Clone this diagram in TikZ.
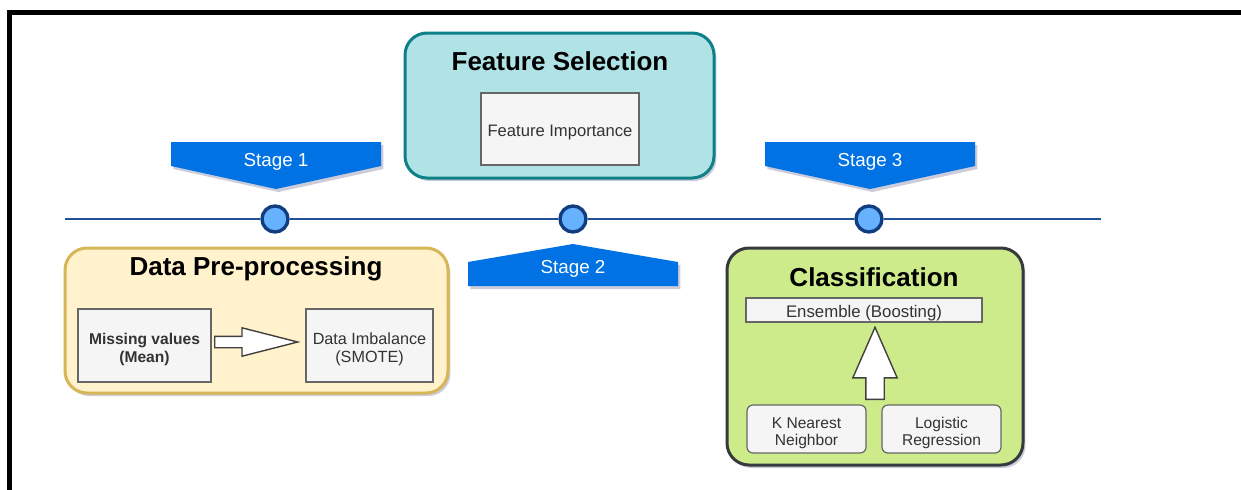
\documentclass[tikz,border=0pt]{standalone}
\usepackage{fontspec}
\setmainfont{Liberation Sans}
\usepackage{xcolor}
\usetikzlibrary{shapes.arrows,shadows}

\definecolor{stageblue}{RGB}{0,114,227}
\definecolor{lineblue}{RGB}{32,80,150}
\definecolor{dotfill}{RGB}{102,178,255}
\definecolor{dotdraw}{RGB}{16,62,128}
\definecolor{fsfill}{RGB}{176,227,230}
\definecolor{fsdraw}{RGB}{14,128,136}
\definecolor{ppfill}{RGB}{255,242,204}
\definecolor{ppdraw}{RGB}{214,182,86}
\definecolor{clfill}{RGB}{205,235,139}
\definecolor{cldraw}{RGB}{54,57,61}
\definecolor{boxfill}{RGB}{245,245,245}
\definecolor{boxdraw}{RGB}{102,102,102}
\definecolor{boxtext}{RGB}{51,51,51}

% strut that pushes the box text a little down
\newcommand{\boxstrut}{\rule{0pt}{9.5pt}}

\begin{document}
\begin{tikzpicture}%
        [x=0.5pt, y=-0.5pt,
        softshadow/.style={drop shadow={shadow xshift=1.2pt, shadow yshift=-1.5pt, opacity=0.2, fill=blue!30!black}},
        outerframe/.style={color=black, line width=2.5pt},
        timeline/.style={color=lineblue, line width=1.4pt},
        stagedot/.style={circle, inner sep=0pt, minimum size=13pt, draw=dotdraw, fill=dotfill, line width=1.7pt},
        banner/.style={fill=stageblue, softshadow},
        bannertext/.style={anchor=base, text=white, font=\fontsize{9.4}{11}\selectfont},
        stagegroup/.style={rounded corners=11pt, line width=1.5pt, inner sep=0pt, softshadow},
        grouptitle/.style={anchor=base, text=black, font=\fontsize{13}{15}\selectfont\bfseries},
        methodbox/.style={draw=boxdraw, fill=boxfill, line width=0.6pt, text=boxtext, align=center, inner sep=0pt},
        blockarrow/.style={single arrow, single arrow head indent=0pt, draw=black!75, fill=white, line width=0.7pt, inner sep=0pt, anchor=tail}]

    %% Page and frame
    \fill[white] (0,0) rectangle (1241,489);
    \useasboundingbox (0,0) rectangle (1241,489);
    \draw[outerframe] (9,495) -- (9,12) -- (1250,12);

    %% Time line with the three stage dots
    \coordinate (tl-start) at (65,219);
    \coordinate (tl-end) at (1101,219);
    \node[stagedot] (dot1) at (275,219) {};
    \node[stagedot] (dot2) at (573,219) {};
    \node[stagedot] (dot3) at (869,219) {};
    \draw[timeline, softshadow] (tl-start) -- (dot1) -- (dot2) -- (dot3) -- (tl-end);

    %% Stage banners
    \foreach \cx/\n in {276/1, 870/3}{
        \fill[banner] (\cx-105,142) -- (\cx+105,142) -- (\cx+105,166) -- (\cx,189) -- (\cx-105,166) -- cycle;
        \node[bannertext] (stage\n) at (\cx,166) {Stage \n};
    }
    \fill[banner] (468,286) -- (678,286) -- (678,262) -- (573,244) -- (468,262) -- cycle;
    \node[bannertext] (stage2) at (573,273) {Stage 2};

    %% Feature selection
    \node[stagegroup, draw=fsdraw, fill=fsfill, minimum width=154.5pt, minimum height=72.5pt] (fs) at (559.5,105.5) {};
    \node[grouptitle] (fs-title) at (560,70) {Feature Selection};
    \node[methodbox, minimum width=79pt, minimum height=36pt, font=\fontsize{8.3}{10}\selectfont] (fs-imp) at (560,129) {\boxstrut Feature Importance};

    %% Data pre-processing
    \node[stagegroup, draw=ppdraw, fill=ppfill, minimum width=191.5pt, minimum height=72.5pt] (pp) at (256.5,320.5) {};
    \node[grouptitle] (pp-title) at (256,275) {Data Pre-processing};
    \node[methodbox, minimum width=66.5pt, minimum height=36.5pt, font=\fontsize{7.8}{9}\selectfont\bfseries] (pp-miss) at (144.5,345.5) {\boxstrut Missing values\\(Mean)};
    \node[methodbox, minimum width=63.5pt, minimum height=36.5pt, font=\fontsize{8.1}{9}\selectfont] (pp-smote) at (369.5,345.5) {\boxstrut Data Imbalance\\(SMOTE)};
    \node[blockarrow, minimum height=41.5pt, text height=2.5pt, text depth=2.5pt,
          single arrow head extend=4.25pt, single arrow tip angle=28.6] (pp-arrow) at (214,342) {};

    %% Classification
    \node[stagegroup, draw=cldraw, fill=clfill, minimum width=148pt, minimum height=108.5pt] (cl) at (875,356.5) {};
    \node[grouptitle] (cl-title) at (874,286) {Classification};
    \node[methodbox, minimum width=118pt, minimum height=12pt, font=\fontsize{8.4}{10}\selectfont] (cl-ens) at (864,310) {\boxstrut Ensemble (Boosting)};
    \node[methodbox, rounded corners=3pt, minimum width=59.5pt, minimum height=24pt, font=\fontsize{7.8}{8.6}\selectfont] (cl-knn) at (806.5,429) {\boxstrut K Nearest\\Neighbor};
    \node[methodbox, rounded corners=3pt, minimum width=59.5pt, minimum height=24pt, font=\fontsize{7.8}{8.6}\selectfont] (cl-lr) at (941.5,429) {\boxstrut Logistic\\Regression};
    \node[blockarrow, rotate=90, minimum height=36pt, text height=4.25pt, text depth=4.25pt,
          single arrow head extend=6.5pt, single arrow tip angle=47.4] (cl-arrow) at (875,400) {};
\end{tikzpicture}
\end{document}
